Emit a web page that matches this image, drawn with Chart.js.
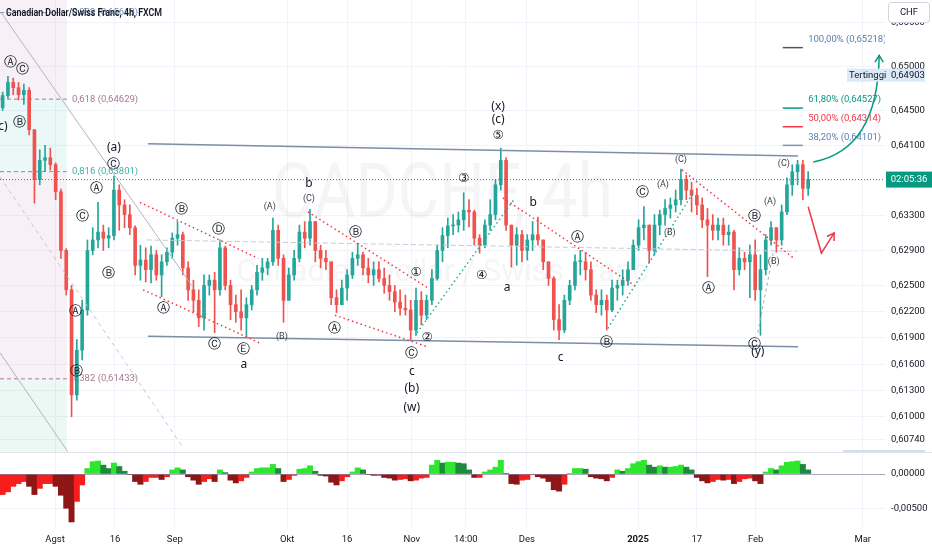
<!DOCTYPE html>
<html>
<head>
<meta charset="utf-8">
<script src="https://cdn.jsdelivr.net/npm/chart.js@4.4.1/dist/chart.umd.min.js"></script>
<style>
html, body { margin: 0; padding: 0; background: #fff; overflow: hidden; }
#wrap { position: relative; width: 932px; height: 550px; }
#price { position: absolute; left: 0; top: 0; }
#osc { position: absolute; left: 0; top: 452px; }
</style>
</head>
<body>
<div id="wrap">
  <canvas id="price" width="932" height="452"></canvas>
  <canvas id="osc" width="932" height="98"></canvas>
</div>
<script>
// CADCHF 4h (one candle per slot, open = previous close)
var firstOpen = 0.6453;
var highs = [0.6471,0.6489,0.6487,0.6482,0.6480,0.6476,0.6428,0.6405,0.6410,0.6407,
 0.6390,0.6360,0.6292,0.6250,0.6188,0.6233,0.6302,0.6316,0.6345,0.6319,
 0.6316,0.6375,0.6365,0.6348,0.6342,0.6318,0.6296,0.6293,0.6295,0.6290,
 0.6285,0.6293,0.6310,0.6323,0.6311,0.6277,0.6256,0.6245,0.6262,0.6262,
 0.6265,0.6302,0.6295,0.6256,0.6239,0.6245,0.6236,0.6250,0.6273,0.6281,
 0.6281,0.6327,0.6319,0.6285,0.6270,0.6290,0.6319,0.6323,0.6337,0.6323,
 0.6296,0.6290,0.6277,0.6245,0.6256,0.6268,0.6288,0.6298,0.6288,0.6281,
 0.6277,0.6277,0.6270,0.6262,0.6250,0.6245,0.6239,0.6233,0.6247,0.6243,
 0.6239,0.6268,0.6296,0.6316,0.6327,0.6331,0.6334,0.6356,0.6348,0.6336,
 0.6308,0.6325,0.6348,0.6371,0.6407,0.6396,0.6319,0.6316,0.6313,0.6308,
 0.6323,0.6328,0.6302,0.6277,0.6260,0.6228,0.6239,0.6256,0.6285,0.6290,
 0.6288,0.6277,0.6245,0.6245,0.6239,0.6256,0.6256,0.6268,0.6277,0.6302,
 0.6325,0.6340,0.6319,0.6331,0.6336,0.6348,0.6350,0.6359,0.6383,0.6376,
 0.6368,0.6361,0.6350,0.6338,0.6331,0.6327,0.6327,0.6319,0.6313,0.6293,
 0.6288,0.6296,0.6302,0.6285,0.6308,0.6323,0.6316,0.6342,0.6373,0.6388,
 0.6393,0.6393,0.6380];
var lows = [0.6450,0.6464,0.6468,0.6462,0.6457,0.6422,0.6344,0.6365,0.6380,0.6382,
 0.6348,0.6281,0.6239,0.6100,0.6119,0.6165,0.6216,0.6285,0.6293,0.6290,
 0.6293,0.6302,0.6313,0.6316,0.6308,0.6262,0.6256,0.6254,0.6253,0.6256,
 0.6237,0.6273,0.6281,0.6296,0.6262,0.6233,0.6220,0.6203,0.6199,0.6239,
 0.6196,0.6239,0.6245,0.6211,0.6208,0.6199,0.6191,0.6222,0.6239,0.6256,
 0.6262,0.6273,0.6273,0.6208,0.6233,0.6256,0.6277,0.6293,0.6296,0.6277,
 0.6270,0.6268,0.6228,0.6219,0.6228,0.6233,0.6258,0.6273,0.6262,0.6253,
 0.6250,0.6254,0.6241,0.6233,0.6220,0.6216,0.6216,0.6188,0.6193,0.6205,
 0.6211,0.6228,0.6256,0.6277,0.6293,0.6308,0.6311,0.6313,0.6317,0.6296,
 0.6287,0.6293,0.6313,0.6325,0.6359,0.6313,0.6271,0.6273,0.6277,0.6279,
 0.6290,0.6296,0.6268,0.6250,0.6199,0.6188,0.6196,0.6228,0.6245,0.6262,
 0.6256,0.6233,0.6219,0.6216,0.6199,0.6220,0.6233,0.6239,0.6250,0.6268,
 0.6290,0.6302,0.6276,0.6285,0.6308,0.6319,0.6327,0.6334,0.6342,0.6348,
 0.6334,0.6331,0.6316,0.6260,0.6302,0.6302,0.6296,0.6296,0.6245,0.6262,
 0.6268,0.6236,0.6233,0.6193,0.6262,0.6296,0.6288,0.6296,0.6331,0.6353,
 0.6365,0.6348,0.6353];
var closes = [0.6467,0.6482,0.6476,0.6468,0.6473,0.6428,0.6371,0.6393,0.6396,0.6388,
 0.6357,0.6290,0.6245,0.6125,0.6176,0.6222,0.6290,0.6302,0.6311,0.6304,
 0.6307,0.6359,0.6342,0.6331,0.6316,0.6273,0.6279,0.6268,0.6285,0.6262,
 0.6277,0.6288,0.6304,0.6308,0.6270,0.6245,0.6233,0.6213,0.6250,0.6256,
 0.6245,0.6293,0.6250,0.6228,0.6220,0.6213,0.6228,0.6245,0.6265,0.6270,
 0.6277,0.6313,0.6281,0.6233,0.6262,0.6281,0.6311,0.6304,0.6323,0.6290,
 0.6281,0.6277,0.6236,0.6228,0.6247,0.6262,0.6281,0.6285,0.6270,0.6262,
 0.6268,0.6258,0.6250,0.6243,0.6231,0.6224,0.6222,0.6199,0.6233,0.6216,
 0.6233,0.6258,0.6290,0.6307,0.6318,0.6319,0.6325,0.6336,0.6334,0.6304,
 0.6296,0.6319,0.6331,0.6365,0.6393,0.6319,0.6296,0.6308,0.6290,0.6302,
 0.6308,0.6302,0.6277,0.6258,0.6211,0.6199,0.6233,0.6250,0.6277,0.6277,
 0.6268,0.6239,0.6228,0.6233,0.6222,0.6247,0.6250,0.6256,0.6268,0.6296,
 0.6316,0.6319,0.6290,0.6319,0.6331,0.6338,0.6342,0.6348,0.6371,0.6359,
 0.6353,0.6342,0.6325,0.6319,0.6313,0.6319,0.6308,0.6311,0.6268,0.6281,
 0.6277,0.6285,0.6245,0.6268,0.6302,0.6316,0.6302,0.6334,0.6365,0.6380,
 0.6388,0.6361,0.6371];
// histogram pane under the price
var oscillator = [-0.0030,-0.0026,-0.0018,-0.0014,-0.0011,-0.0018,-0.0030,-0.0021,-0.0014,-0.0014,
 -0.0018,-0.0031,-0.0050,-0.0070,-0.0040,-0.0016,0.0008,0.0018,0.0019,0.0013,
 0.0008,0.0016,0.0011,0.0004,-0.0001,-0.0011,-0.0015,-0.0011,-0.0005,-0.0005,
 -0.0008,-0.0004,0.0006,0.0009,0.0006,-0.0004,-0.0009,-0.0015,-0.0011,-0.0007,
 -0.0011,0.0006,0.0002,-0.0009,-0.0013,-0.0010,-0.0005,0.0003,0.0008,0.0009,
 0.0009,0.0014,0.0008,-0.0011,-0.0008,-0.0002,0.0007,0.0008,0.0012,0.0004,
 -0.0002,-0.0003,-0.0012,-0.0016,-0.0010,-0.0004,0.0003,0.0009,0.0006,-0.0001,
 -0.0002,-0.0002,-0.0005,-0.0006,-0.0009,-0.0008,-0.0007,-0.0010,-0.0009,-0.0006,
 -0.0005,0.0013,0.0020,0.0016,0.0017,0.0017,0.0016,0.0015,0.0006,-0.0005,
 -0.0005,0.0003,0.0006,0.0010,0.0020,0.0001,-0.0014,-0.0015,-0.0009,-0.0008,
 -0.0001,-0.0004,-0.0006,-0.0011,-0.0023,-0.0025,-0.0015,0.0001,0.0008,0.0008,
 0.0007,-0.0004,-0.0006,-0.0007,-0.0010,-0.0005,0.0006,0.0004,0.0008,0.0015,
 0.0018,0.0020,0.0013,0.0010,0.0012,0.0010,0.0010,0.0011,0.0013,0.0010,
 0.0006,-0.0005,-0.0010,-0.0013,-0.0011,-0.0008,-0.0009,-0.0008,-0.0014,-0.0011,
 -0.0007,-0.0006,-0.0010,-0.0014,0.0003,0.0008,0.0006,0.0012,0.0017,0.0018,
 0.0019,0.0014,0.0006];

var xTickPos = [9.9, 21.2, 32.5, 53.7, 65.0, 77.2, 87.4, 98.9, 119.9, 131.0, 142.1, 162.3];
var xTickLabels = ['Agst', '16', 'Sep', 'Okt', '16', 'Nov', '14:00', 'Des', '2025', '17', 'Feb', 'Mar'];
var priceTicks = [0.655, 0.650, 0.645, 0.641, 0.633, 0.629, 0.625, 0.622, 0.619, 0.616, 0.613, 0.610, 0.6074];
var oscTicks = [0, -0.005];
var highestPrice = 0.64903;

// drawings on the chart, anchored in (slot, price)
var fibLeft = [
  { ratio: '0,382', price: 0.65618, color: '#6d8fbd' },
  { ratio: '0,618', price: 0.64629, color: '#a9798f' },
  { ratio: '0,816', price: 0.63801, color: '#3fb3a7' },
  { ratio: '1,382', price: 0.61433, color: '#a9798f' }
];
var fibZoneColors = ['rgba(205,160,205,0.16)', 'rgba(110,205,205,0.14)', 'rgba(205,160,205,0.16)', 'rgba(90,195,165,0.12)'];
var fibRight = [
  { pct: '100,00%', price: 0.65218, line: '#4a5866', text: '#5b80ad' },
  { pct: '61,80%', price: 0.64527, line: '#089981', text: '#089981' },
  { pct: '50,00%', price: 0.64314, line: '#f23645', text: '#f23645' },
  { pct: '38,20%', price: 0.64101, line: '#7a95bb', text: '#5b80ad' }
];
var trendLines = [
  { p: [[27.4, 0.6412], [150.1, 0.6398]], c: '#7b8fa6', w: 1.5, d: [] },
  { p: [[27.4, 0.6192], [150.1, 0.6180]], c: '#7b8fa6', w: 1.5, d: [] },
  { p: [[27.2, 0.6302], [149.9, 0.6289]], c: '#c3c9d2', w: 1, d: [5, 3] },
  { p: [[25.9, 0.6345], [48.2, 0.6281]], c: '#f23645', w: 1.5, d: [1.5, 3] },
  { p: [[26.5, 0.6245], [48.6, 0.6184]], c: '#f23645', w: 1.5, d: [1.5, 3] },
  { p: [[57.6, 0.6334], [80.3, 0.6247]], c: '#f23645', w: 1.5, d: [1.5, 3] },
  { p: [[62.7, 0.6216], [80.1, 0.6180]], c: '#f23645', w: 1.5, d: [1.5, 3] },
  { p: [[94.4, 0.6350], [119.7, 0.6248]], c: '#f23645', w: 1.5, d: [1.5, 3] },
  { p: [[128.2, 0.6382], [149.1, 0.6282]], c: '#f23645', w: 1.5, d: [1.5, 3] },
  { p: [[78.2, 0.6196], [96.7, 0.6350]], c: '#22ab94', w: 1.5, d: [1.5, 3] },
  { p: [[114.2, 0.6201], [130.3, 0.6356]], c: '#22ab94', w: 1.5, d: [1.5, 3] },
  { p: [[142.5, 0.6196], [145.4, 0.6287]], c: '#a3a7b0', w: 1, d: [3, 3] },
  { p: [[-0.2, 0.6561], [35.9, 0.6248]], c: '#b2b5be', w: 1, d: [] },
  { p: [[-0.5, 0.6173], [12.3, 0.6060]], c: '#b2b5be', w: 1, d: [] },
  { p: [[-0.5, 0.6374], [34.0, 0.6065]], c: '#c3c6cc', w: 1, d: [4, 4] }
];
var waveLabels = [
  [1.4, 0.6504, 'Ⓐ'], [3.7, 0.6496, 'Ⓒ'], [3.1, 0.6436, 'Ⓑ'], [-0.3, 0.6431, '(c)'],
  [21.0, 0.6408, '(a)'], [21.0, 0.6388, 'Ⓒ'], [17.8, 0.6360, 'Ⓐ'], [15.0, 0.6328, 'Ⓒ'], [19.9, 0.6263, 'Ⓑ'],
  [13.7, 0.6220, 'Ⓐ'], [14.0, 0.6151, 'Ⓑ'], [33.8, 0.6336, 'Ⓑ'], [40.8, 0.6314, 'Ⓓ'], [30.3, 0.6223, 'Ⓐ'],
  [39.9, 0.6182, 'Ⓒ'], [45.5, 0.6176, 'Ⓔ'], [45.5, 0.6160, 'a'], [52.7, 0.6191, '(B)'], [50.4, 0.6340, '(A)'],
  [57.8, 0.6349, '(C)'], [57.8, 0.6366, 'b'], [66.5, 0.6310, 'Ⓑ'], [62.7, 0.6201, 'Ⓐ'], [78.0, 0.6265, '①'],
  [80.1, 0.6190, '②'], [77.2, 0.6172, 'Ⓒ'], [77.2, 0.6151, 'c'], [77.2, 0.6132, '(b)'], [77.2, 0.6110, '(w)'],
  [87.0, 0.6372, '③'], [90.4, 0.6261, '④'], [93.5, 0.6421, '⑤'], [93.5, 0.6439, '(c)'], [93.5, 0.6454, '(x)'],
  [95.2, 0.6248, 'a'], [100.1, 0.6345, 'b'], [108.4, 0.6304, 'Ⓐ'], [105.3, 0.6167, 'c'], [114.0, 0.6184, 'Ⓑ'],
  [120.8, 0.6356, 'Ⓒ'], [124.6, 0.6365, '(A)'], [125.9, 0.6310, '(B)'], [128.0, 0.6394, '(C)'],
  [133.1, 0.6246, 'Ⓐ'], [141.8, 0.6329, 'Ⓑ'], [141.8, 0.6182, 'Ⓒ'], [142.5, 0.6174, '(y)'],
  [144.8, 0.6346, '(A)'], [145.5, 0.6277, '(B)'], [147.4, 0.6389, '(C)']
];
var greenArrow = [[152.95, 0.6391], [165.2, 0.6405], [165.4, 0.6513]];
var redArrow = [[152.0, 0.6340], [154.5, 0.6287], [156.9, 0.6310]];

var upColor = '#26a69a', downColor = '#ef5350';
var opens = closes.map(function (c, i) { return i === 0 ? firstOpen : closes[i - 1]; });
var candleColors = closes.map(function (c, i) { return c >= opens[i] ? upColor : downColor; });
var wickData = highs.map(function (h, i) { return { x: i, y: [lows[i], h] }; });
var bodyData = closes.map(function (c, i) { return { x: i, y: [opens[i], c] }; });
var oscColors = oscillator.map(function (v, i) {
  var rising = i === 0 || v >= oscillator[i - 1];
  if (v >= 0) return rising ? '#2ee62e' : '#1b8a3b';
  return rising ? '#f81d1d' : '#8e1616';
});

Chart.defaults.font.family = 'Roboto, "Noto Sans", sans-serif';
Chart.defaults.font.size = 9;
Chart.defaults.color = '#131722';

function fmt(v) { return v.toFixed(5).replace('.', ','); }

function arrowHead(c, x, y, ang, len) {
  c.beginPath();
  c.moveTo(x - len * Math.cos(ang - 0.55), y - len * Math.sin(ang - 0.55));
  c.lineTo(x, y);
  c.lineTo(x - len * Math.cos(ang + 0.55), y - len * Math.sin(ang + 0.55));
  c.stroke();
}

// keep the plot area flush with the canvas edges
function noPad(s) { s.paddingTop = 0; s.paddingBottom = 0; }

var priceDecor = {
  id: 'priceDecor',
  beforeDatasetsDraw: function (chart) {
    var c = chart.ctx, a = chart.chartArea, xs = chart.scales.x, ys = chart.scales.y;
    c.save();
    c.beginPath(); c.rect(a.left, a.top, a.width, a.height); c.clip();
    // fib extension zones on the left
    var zx0 = xs.getPixelForValue(-0.5), zx1 = xs.getPixelForValue(12.1);
    var bounds = [ys.max, fibLeft[1].price, fibLeft[2].price, fibLeft[3].price, ys.min];
    for (var k = 0; k < 4; k++) {
      var y0 = ys.getPixelForValue(bounds[k]), y1 = ys.getPixelForValue(bounds[k + 1]);
      c.fillStyle = fibZoneColors[k];
      c.fillRect(zx0, y0, zx1 - zx0, y1 - y0);
    }
    // watermark
    c.fillStyle = 'rgba(110,120,140,0.07)';
    c.textAlign = 'center';
    c.textBaseline = 'alphabetic';
    c.font = '76px Roboto';
    c.fillText('CADCHF, 4h', a.left + a.width / 2, a.top + 217, 341);
    c.font = '31px Roboto';
    c.fillText('Canadian Dollar / Swiss Franc', a.left + a.width / 2, a.top + 281, 427);
    // fib levels
    c.lineWidth = 1;
    c.setLineDash([4, 3]);
    fibLeft.forEach(function (f) {
      var y = ys.getPixelForValue(f.price);
      c.strokeStyle = f.color;
      c.beginPath(); c.moveTo(zx0, y); c.lineTo(zx1, y); c.stroke();
    });
    c.setLineDash([]);
    c.font = '9.5px Roboto';
    c.textAlign = 'left';
    c.textBaseline = 'middle';
    fibLeft.forEach(function (f) {
      c.fillStyle = f.color;
      c.fillText(f.ratio + ' (' + fmt(f.price) + ')', xs.getPixelForValue(13.1), ys.getPixelForValue(f.price));
    });
    c.restore();
  },
  afterDatasetsDraw: function (chart) {
    var c = chart.ctx, a = chart.chartArea, xs = chart.scales.x, ys = chart.scales.y;
    var X = function (v) { return xs.getPixelForValue(v); };
    var Y = function (v) { return ys.getPixelForValue(v); };
    c.save();
    c.beginPath(); c.rect(a.left, a.top, a.width, a.height); c.clip();

    trendLines.forEach(function (t) {
      c.strokeStyle = t.c; c.lineWidth = t.w; c.setLineDash(t.d);
      c.beginPath();
      c.moveTo(X(t.p[0][0]), Y(t.p[0][1]));
      c.lineTo(X(t.p[1][0]), Y(t.p[1][1]));
      c.stroke();
    });
    c.setLineDash([]);

    // last price line
    var last = closes[closes.length - 1];
    c.strokeStyle = '#089981'; c.lineWidth = 1; c.setLineDash([1, 2]);
    c.beginPath(); c.moveTo(a.left, Y(last)); c.lineTo(a.right, Y(last)); c.stroke();
    c.setLineDash([]);

    // wave labels
    c.textAlign = 'center';
    c.textBaseline = 'middle';
    waveLabels.forEach(function (l) {
      var t = l[2], code = t.charCodeAt(0);
      if (code >= 0x2460 && code <= 0x24ff) {
        c.font = '12.5px "DejaVu Sans"'; c.fillStyle = '#131722';
      } else if (/^\([A-Z]\)$/.test(t)) {
        c.font = '9px Roboto'; c.fillStyle = '#3a3e4a';
      } else {
        c.font = '12px "Noto Sans"'; c.fillStyle = '#131722';
      }
      c.fillText(t, X(l[0]), Y(l[1]));
    });

    // fib targets on the right
    c.textAlign = 'left';
    c.textBaseline = 'middle';
    c.font = '9.5px Roboto';
    fibRight.forEach(function (f) {
      var y = Y(f.price);
      c.strokeStyle = f.line; c.lineWidth = 1.5;
      c.beginPath(); c.moveTo(X(147.2), y); c.lineTo(X(151.0), y); c.stroke();
      c.fillStyle = f.text;
      c.fillText(f.pct + ' (' + fmt(f.price) + ')', X(152.0), y - 8);
    });

    // projected path arrows
    c.lineWidth = 1.5;
    c.strokeStyle = '#089981';
    var g = greenArrow;
    c.beginPath();
    c.moveTo(X(g[0][0]), Y(g[0][1]));
    c.quadraticCurveTo(X(g[1][0]), Y(g[1][1]), X(g[2][0]), Y(g[2][1]));
    c.stroke();
    arrowHead(c, X(g[2][0]), Y(g[2][1]), Math.atan2(Y(g[2][1]) - Y(g[1][1]), X(g[2][0]) - X(g[1][0])), 8);

    c.strokeStyle = '#f23645';
    var r = redArrow;
    c.beginPath();
    c.moveTo(X(r[0][0]), Y(r[0][1]));
    c.lineTo(X(r[1][0]), Y(r[1][1]));
    c.lineTo(X(r[2][0]), Y(r[2][1]));
    c.stroke();
    arrowHead(c, X(r[2][0]), Y(r[2][1]), Math.atan2(Y(r[2][1]) - Y(r[1][1]), X(r[2][0]) - X(r[1][0])), 8);
    c.restore();
  },
  afterDraw: function (chart) {
    var c = chart.ctx, a = chart.chartArea, ys = chart.scales.y;
    c.save();
    c.textBaseline = 'middle';
    // highest price label
    var yh = ys.getPixelForValue(highestPrice);
    c.fillStyle = '#dce9f8';
    c.fillRect(847, yh - 6.5, 78, 13);
    c.fillStyle = '#131722';
    c.font = '9.5px Roboto';
    c.textAlign = 'left';
    c.fillText('Tertinggi', 849, yh);
    c.fillText(fmt(highestPrice), a.right + 6, yh);
    // countdown label at last price
    var yl = ys.getPixelForValue(closes[closes.length - 1]);
    c.fillStyle = '#089981';
    c.fillRect(a.right + 1, yl - 8, 46, 16);
    c.fillStyle = '#ffffff';
    c.textAlign = 'center';
    c.fillText('02:05:36', a.right + 24, yl);
    // currency box
    c.fillStyle = '#ffffff';
    c.strokeStyle = '#d1d4dc';
    c.lineWidth = 1;
    c.beginPath();
    c.roundRect(888.5, 2.5, 41, 20, 3);
    c.fill(); c.stroke();
    c.fillStyle = '#131722';
    c.fillText('CHF', 909, 13);
    // lowest price marker at the bottom of the scale
    c.fillStyle = '#cfe0f5';
    c.fillRect(843, a.bottom - 2, 82, 2);
    // title
    c.textAlign = 'left';
    c.font = '600 10px Roboto';
    c.fillStyle = '#131722';
    c.fillText('Canadian Dollar/Swiss Franc, 4h, FXCM', 6, 13, 156);
    c.restore();
  }
};

var oscDecor = {
  id: 'oscDecor',
  afterDatasetsDraw: function (chart) {
    var c = chart.ctx, a = chart.chartArea, ys = chart.scales.y;
    c.save();
    c.strokeStyle = 'rgba(120,123,150,0.6)';
    c.lineWidth = 1;
    var y0 = Math.round(ys.getPixelForValue(0)) + 0.5;
    c.beginPath(); c.moveTo(a.left, y0); c.lineTo(a.right, y0); c.stroke();
    c.strokeStyle = '#e0e3eb';
    c.beginPath(); c.moveTo(0, 0.5); c.lineTo(932, 0.5); c.stroke();
    c.restore();
  }
};

function xTicksBuilder(s) { s.ticks = xTickPos.map(function (v) { return { value: v }; }); }

new Chart(document.getElementById('price'), {
  type: 'bar',
  data: {
    datasets: [
      { data: wickData, backgroundColor: candleColors, barThickness: 1, grouped: false, order: 2 },
      { data: bodyData, backgroundColor: candleColors, barThickness: 3, grouped: false, minBarLength: 1, order: 1 }
    ]
  },
  options: {
    responsive: false,
    animation: false,
    layout: { padding: 0 },
    plugins: { legend: { display: false }, tooltip: { enabled: false } },
    scales: {
      x: {
        type: 'linear', min: -0.5, max: 166.5, offset: false,
        afterBuildTicks: xTicksBuilder,
        ticks: { display: false },
        grid: { color: '#f0f3fa', drawTicks: false, offset: false },
        border: { display: false },
        afterFit: function (s) { s.height = 0; s.paddingLeft = 0; s.paddingRight = 0; }
      },
      y: {
        position: 'right',
        min: 0.605966, max: 0.657623,
        afterBuildTicks: function (s) { s.ticks = priceTicks.map(function (v) { return { value: v }; }); },
        afterFit: function (s) { s.width = 47; noPad(s); },
        ticks: { autoSkip: false, padding: 6, font: { size: 9.5 }, color: '#131722', callback: function (v) { return fmt(v); } },
        grid: { color: '#f0f3fa', drawTicks: false },
        border: { display: false }
      }
    }
  },
  plugins: [priceDecor]
});

new Chart(document.getElementById('osc'), {
  type: 'bar',
  data: {
    datasets: [{
      data: oscillator.map(function (v, i) { return { x: i, y: v }; }),
      backgroundColor: oscColors, barPercentage: 1, categoryPercentage: 1
    }]
  },
  options: {
    responsive: false,
    animation: false,
    layout: { padding: 0 },
    plugins: { legend: { display: false }, tooltip: { enabled: false } },
    scales: {
      x: {
        type: 'linear', min: -0.5, max: 166.5, offset: false,
        afterBuildTicks: xTicksBuilder,
        ticks: {
          autoSkip: false, maxRotation: 0, padding: 7, color: '#131722',
          font: function (ctx) { return { size: 9.5, weight: xTickLabels[ctx.index] === '2025' ? 'bold' : 'normal' }; },
          callback: function (v, i) { return xTickLabels[i]; }
        },
        grid: { color: '#f0f3fa', drawTicks: false, offset: false },
        border: { display: false },
        afterFit: function (s) { s.height = 23; s.paddingLeft = 0; s.paddingRight = 0; }
      },
      y: {
        position: 'right',
        min: -0.00773, max: 0.00321,
        afterBuildTicks: function (s) { s.ticks = oscTicks.map(function (v) { return { value: v }; }); },
        afterFit: function (s) { s.width = 47; noPad(s); },
        ticks: { autoSkip: false, padding: 6, font: { size: 9.5 }, color: '#131722', callback: function (v) { return fmt(v); } },
        grid: { color: '#f0f3fa', drawTicks: false },
        border: { display: false }
      }
    }
  },
  plugins: [oscDecor]
});
</script>
</body>
</html>
